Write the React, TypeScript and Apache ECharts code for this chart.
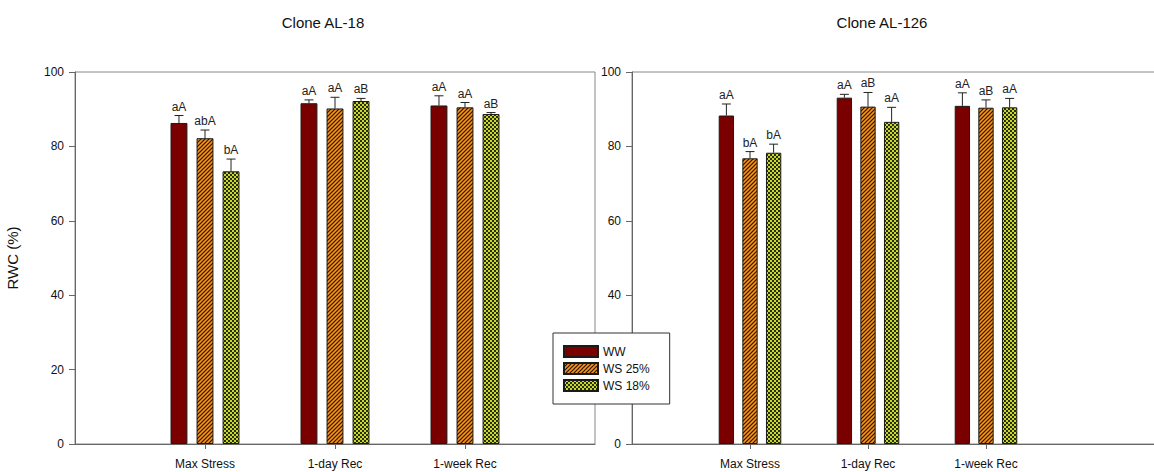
import React, { useEffect, useRef } from 'react';
import * as echarts from 'echarts';

const categories = ['Max Stress', '1-day Rec', '1-week Rec'];
const treatments = ['WW', 'WS 25%', 'WS 18%'];
const yTicks = { min: 0, max: 100, interval: 20 };

// Clone AL-18
const al18WW = [86.3, 91.6, 91.0];
const al18WS25 = [82.2, 90.2, 90.5];
const al18WS18 = [73.3, 92.2, 88.7];
const al18ErrWW = [2.0, 0.9, 2.6];
const al18ErrWS25 = [2.2, 3.0, 1.3];
const al18ErrWS18 = [3.3, 0.7, 0.4];
const al18LetWW = ['aA', 'aA', 'aA'];
const al18LetWS25 = ['abA', 'aA', 'aA'];
const al18LetWS18 = ['bA', 'aB', 'aB'];

// Clone AL-126
const al126WW = [88.3, 93.1, 90.9];
const al126WS25 = [76.8, 90.7, 90.4];
const al126WS18 = [78.3, 86.6, 90.5];
const al126ErrWW = [3.1, 0.9, 3.5];
const al126ErrWS25 = [1.8, 3.8, 2.1];
const al126ErrWS18 = [2.3, 3.9, 2.4];
const al126LetWW = ['aA', 'aA', 'aA'];
const al126LetWS25 = ['bA', 'aB', 'aB'];
const al126LetWS18 = ['bA', 'aA', 'aA'];

// right-panel tick value hidden under the legend box in the reference
const rightHiddenTicks = [20];

const FONT = '"Liberation Sans", Arial, sans-serif';

function makeStripe(): HTMLCanvasElement {
  const c = document.createElement('canvas');
  c.width = 4;
  c.height = 4;
  const ctx = c.getContext('2d')!;
  ctx.fillStyle = '#F7941E';
  ctx.fillRect(0, 0, 4, 4);
  ctx.strokeStyle = '#2b1400';
  ctx.lineWidth = 1.2;
  ctx.beginPath();
  ctx.moveTo(-1, 5); ctx.lineTo(5, -1);
  ctx.moveTo(-1, 1); ctx.lineTo(1, -1);
  ctx.moveTo(3, 5); ctx.lineTo(5, 3);
  ctx.stroke();
  return c;
}

function makeChecker(): HTMLCanvasElement {
  const c = document.createElement('canvas');
  c.width = 4;
  c.height = 4;
  const ctx = c.getContext('2d')!;
  ctx.fillStyle = '#C9D82E';
  ctx.fillRect(0, 0, 4, 4);
  ctx.fillStyle = '#2a2e05';
  ctx.fillRect(0, 0, 2, 2);
  ctx.fillRect(2, 2, 2, 2);
  return c;
}

export default function App() {
  const ref = useRef<HTMLDivElement>(null);

  useEffect(() => {
    const chart = echarts.init(ref.current!, null, { renderer: 'svg' });
    const stripe = { image: makeStripe(), repeat: 'repeat' };
    const checker = { image: makeChecker(), repeat: 'repeat' };
    const fills: any[] = ['#7A0000', stripe, checker];

    const leftAxisData = ['', ...categories, ''];
    const rightAxisData = ['', ...categories, '', ''];

    const barSeries = (idx: number, sets: number[][]) =>
      sets.map((vals, s) => ({
        type: 'bar',
        name: treatments[s],
        xAxisIndex: idx,
        yAxisIndex: idx,
        barWidth: '13%',
        barGap: '54%',
        data: vals.map((v, c) => [c + 1, v]),
        itemStyle: { color: fills[s], borderColor: '#1a1a1a', borderWidth: 1 },
        silent: true,
        z: 2,
      }));

    const errSeries = (idx: number, means: number[][], errs: number[][], letters: string[][]) => {
      const data: number[][] = [];
      const labels: string[] = [];
      means.forEach((vals, s) =>
        vals.forEach((v, c) => {
          data.push([c + 1, v, errs[s][c], s]);
          labels.push(letters[s][c]);
        })
      );
      return {
        type: 'custom',
        xAxisIndex: idx,
        yAxisIndex: idx,
        silent: true,
        z: 5,
        data,
        renderItem: (params: any, api: any) => {
          const ci = api.value(0);
          const v = api.value(1);
          const e = api.value(2);
          const s = api.value(3);
          const bw = api.size([1, 0])[0];
          const off = (s - 1) * 0.2002 * bw;
          const pBase = api.coord([ci, v]);
          const pTop = api.coord([ci, v + e]);
          const x = pBase[0] + off;
          const cap = 4.5;
          return {
            type: 'group',
            children: [
              { type: 'line', shape: { x1: x, y1: pBase[1], x2: x, y2: pTop[1] }, style: { stroke: '#222', lineWidth: 1 } },
              { type: 'line', shape: { x1: x - cap, y1: pTop[1], x2: x + cap, y2: pTop[1] }, style: { stroke: '#222', lineWidth: 1 } },
              {
                type: 'text',
                x,
                y: pTop[1] - 3,
                style: {
                  text: labels[params.dataIndex],
                  textAlign: 'center',
                  textVerticalAlign: 'bottom',
                  fontSize: 12,
                  fontFamily: FONT,
                  fill: '#222',
                },
              },
            ],
          };
        },
      };
    };

    const xAxisBase = (data: string[], gridIndex: number) => ({
      type: 'category',
      gridIndex,
      data,
      boundaryGap: false,
      axisLine: { lineStyle: { color: '#666' } },
      axisTick: { interval: (_i: number, v: string) => v !== '', length: 5, lineStyle: { color: '#666' } },
      axisLabel: { interval: 0, margin: 14, fontSize: 12, color: '#111', fontFamily: FONT },
      splitLine: { show: false },
    });

    const yAxisBase = (gridIndex: number, name: string, hidden: number[]) => ({
      type: 'value',
      gridIndex,
      min: yTicks.min,
      max: yTicks.max,
      interval: yTicks.interval,
      name,
      nameLocation: 'middle',
      nameGap: 55,
      nameRotate: 90,
      nameTextStyle: { fontSize: 15, color: '#111', fontFamily: FONT },
      axisLine: { show: true, lineStyle: { color: '#666' } },
      axisTick: { show: true, length: 6, lineStyle: { color: '#666' } },
      axisLabel: {
        margin: 11,
        fontSize: 12,
        color: '#111',
        fontFamily: FONT,
        formatter: (v: number) => (hidden.indexOf(v) >= 0 ? '' : String(v)),
      },
      splitLine: { show: false },
    });

    const option: any = {
      animation: false,
      backgroundColor: '#fff',
      textStyle: { fontFamily: FONT },
      grid: [
        { left: 75, top: 72, width: 520, height: 372, show: true, borderColor: '#888', borderWidth: 1 },
        { left: 632, top: 72, width: 590, height: 372, show: true, borderColor: '#888', borderWidth: 1 },
      ],
      xAxis: [xAxisBase(leftAxisData, 0), xAxisBase(rightAxisData, 1)],
      yAxis: [yAxisBase(0, 'RWC (%)', []), yAxisBase(1, '', rightHiddenTicks)],
      legend: {
        data: treatments,
        orient: 'vertical',
        left: 553,
        top: 333,
        icon: 'rect',
        itemWidth: 34,
        itemHeight: 11,
        itemGap: 4,
        padding: [12, 20, 12, 10],
        backgroundColor: '#fff',
        borderColor: '#333',
        borderWidth: 1,
        selectedMode: false,
        textStyle: { fontSize: 12, color: '#111', fontFamily: FONT },
        z: 10,
      },
      graphic: [
        { type: 'text', x: 323, y: 22, z: 10, style: { text: 'Clone AL-18', textAlign: 'center', textVerticalAlign: 'middle', fontSize: 15, fontFamily: FONT, fill: '#111' } },
        { type: 'text', x: 882, y: 22, z: 10, style: { text: 'Clone AL-126', textAlign: 'center', textVerticalAlign: 'middle', fontSize: 15, fontFamily: FONT, fill: '#111' } },
      ],
      series: [
        ...barSeries(0, [al18WW, al18WS25, al18WS18]),
        ...barSeries(1, [al126WW, al126WS25, al126WS18]),
        errSeries(0, [al18WW, al18WS25, al18WS18], [al18ErrWW, al18ErrWS25, al18ErrWS18], [al18LetWW, al18LetWS25, al18LetWS18]),
        errSeries(1, [al126WW, al126WS25, al126WS18], [al126ErrWW, al126ErrWS25, al126ErrWS18], [al126LetWW, al126LetWS25, al126LetWS18]),
      ],
    };
    chart.setOption(option);
    return () => chart.dispose();
  }, []);

  return (
    <div style={{ position: 'fixed', left: 0, top: 0, width: 1154, height: 472, overflow: 'hidden', background: '#fff' }}>
      <div ref={ref} style={{ width: 1240, height: 472 }} />
    </div>
  );
}
